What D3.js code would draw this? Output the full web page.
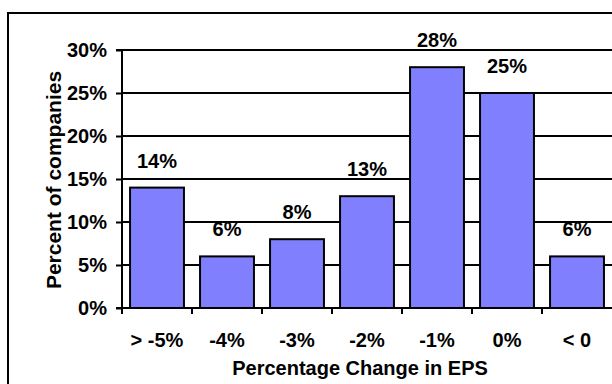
<!DOCTYPE html>
<html>
<head>
<meta charset="utf-8">
<script src="https://cdn.jsdelivr.net/npm/d3@7"></script>
<style>
  body { margin: 0; background: #fff; }
  svg { display: block; }
  text { font-family: Arial, "Liberation Sans", sans-serif; font-weight: bold; fill: #000; }
</style>
</head>
<body>
<div class="chart-container"></div>
<script>
var width = 612, height = 384,
    margin = {top: 50, bottom: 76, left: 122, right: 0};

// data
var categories = ['> -5%', '-4%', '-3%', '-2%', '-1%', '0%', '< 0'];
var percents = [14, 6, 8, 13, 28, 25, 6];
var yTicks = [0, 5, 10, 15, 20, 25, 30];

var axesWidth = width - margin.left - margin.right,
    axesHeight = height - margin.top - margin.bottom;

const root = d3.select('.chart-container')
    .append('svg')
    .attr('width', width)
    .attr('height', height);

// outer frame (runs off the right and bottom edges)
root.append('rect')
    .attr('x', 8).attr('y', 13)
    .attr('width', 700).attr('height', 500)
    .attr('fill', 'none')
    .attr('stroke', '#000')
    .attr('stroke-width', 2);

const svg = root.append('g')
    .attr('transform', `translate(${margin.left},${margin.top})`);

const x = d3.scaleBand()
    .domain(categories)
    .range([0, axesWidth])
    .paddingInner(0.23)
    .paddingOuter(0.115);

const y = d3.scaleLinear()
    .domain([0, 30])
    .range([axesHeight, 0]);

// grid lines
svg.selectAll('.grid')
    .data(yTicks.slice(1))
    .join('line')
    .attr('x1', 0).attr('x2', axesWidth)
    .attr('y1', d => y(d)).attr('y2', d => y(d))
    .attr('stroke', '#000')
    .attr('stroke-width', 2);

// bars
svg.selectAll('.bar')
    .data(percents)
    .join('rect')
    .attr('class', 'bar')
    .attr('x', (d, i) => x(categories[i]))
    .attr('y', d => y(d))
    .attr('width', x.bandwidth())
    .attr('height', d => axesHeight - y(d))
    .attr('fill', '#8080ff')
    .attr('stroke', '#000')
    .attr('stroke-width', 2);

// value labels
svg.selectAll('.val')
    .data(percents)
    .join('text')
    .attr('class', 'val')
    .attr('x', (d, i) => x(categories[i]) + x.bandwidth() / 2)
    .attr('y', d => y(d) - 20)
    .attr('text-anchor', 'middle')
    .style('font-size', '20px')
    .text(d => d + '%');

// y axis
const yAxis = svg.append('g')
    .call(d3.axisLeft(y).tickValues(yTicks).tickSize(6).tickPadding(9).tickFormat(d => d + '%'));
yAxis.select('.domain').attr('stroke-width', 2).attr('d', `M-6,${axesHeight}H0V0H-6`);
yAxis.selectAll('line').attr('stroke-width', 2);
yAxis.selectAll('text')
    .style('font-size', '20px')
    .style('font-family', 'Arial, "Liberation Sans", sans-serif')
    .attr('dy', '0.34em');

// x axis: ticks between categories
const xAxis = svg.append('g')
    .attr('transform', `translate(0,${axesHeight})`);
xAxis.append('line')
    .attr('x1', 0).attr('x2', axesWidth)
    .attr('stroke', '#000').attr('stroke-width', 2);
xAxis.selectAll('.tick-mark')
    .data(categories)
    .join('line')
    .attr('x1', (d, i) => i * x.step()).attr('x2', (d, i) => i * x.step())
    .attr('y1', 0).attr('y2', 6)
    .attr('stroke', '#000').attr('stroke-width', 2);
xAxis.selectAll('.cat')
    .data(categories)
    .join('text')
    .attr('x', d => x(d) + x.bandwidth() / 2)
    .attr('y', 39)
    .attr('text-anchor', 'middle')
    .style('font-size', '20px')
    .text(d => d);

// axis titles
root.append('text')
    .attr('x', 360).attr('y', 375)
    .attr('text-anchor', 'middle')
    .style('font-size', '20px')
    .text('Percentage Change in EPS');

root.append('text')
    .attr('transform', 'translate(61,180) rotate(-90)')
    .attr('text-anchor', 'middle')
    .style('font-size', '21px')
    .text('Percent of companies');
</script>
</body>
</html>
